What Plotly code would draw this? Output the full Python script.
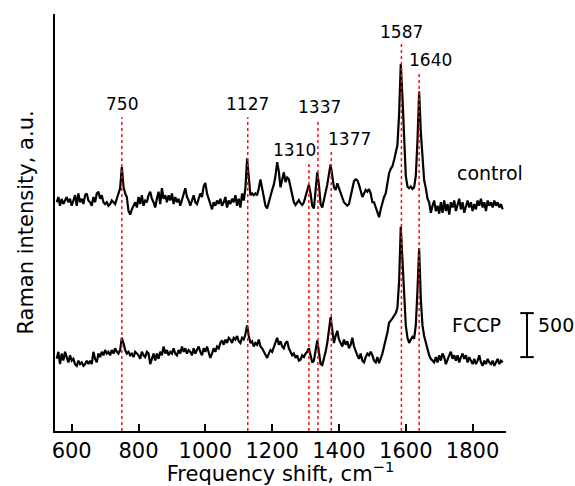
import plotly.graph_objects as go

# --- Data: Raman spectra sampled every 5 cm-1 from 555 to 1890 ---
WAVENUMBER = list(range(555, 1891, 5))

CONTROL = [
    2600, 2660, 2560, 2640, 2580, 2620, 2660, 2600, 2640, 2560,   # 555-600
    2620, 2680, 2560, 2700, 2600, 2640, 2580, 2680, 2700, 2620,   # 605-650
    2600, 2560, 2660, 2600, 2700, 2720, 2640, 2680, 2600, 2580,   # 655-700
    2600, 2560, 2580, 2620, 2600, 2580, 2640, 2700, 2760, 3000,   # 705-750
    2780, 2700, 2660, 2500, 2460, 2520, 2560, 2600, 2540, 2660,   # 755-800
    2580, 2680, 2560, 2620, 2600, 2680, 2720, 2640, 2600, 2540,   # 805-850
    2640, 2720, 2580, 2760, 2640, 2680, 2600, 2680, 2620, 2700,   # 855-900
    2580, 2660, 2600, 2640, 2560, 2620, 2700, 2760, 2660, 2620,   # 905-950
    2560, 2620, 2680, 2600, 2580, 2640, 2700, 2660, 2780, 2820,   # 955-1000
    2700, 2640, 2580, 2520, 2600, 2560, 2620, 2580, 2640, 2560,   # 1005-1050
    2600, 2660, 2540, 2620, 2580, 2640, 2600, 2680, 2560, 2640,   # 1055-1100
    2540, 2700, 2620, 2760, 3100, 2880, 2680, 2700, 2680, 2700,   # 1105-1150
    2680, 2760, 2860, 2760, 2640, 2560, 2530, 2600, 2700, 2740,   # 1155-1200
    2800, 2900, 3055, 2950, 2770, 2850, 2940, 2830, 2880, 2860,   # 1205-1250
    2760, 2660, 2600, 2570, 2600, 2625, 2590, 2570, 2600, 2660,   # 1255-1300
    2740, 2800, 2700, 2560, 2530, 2700, 2940, 2800, 2580, 2540,   # 1305-1350
    2620, 2700, 2800, 2920, 3030, 2900, 2770, 2740, 2815, 2760,   # 1355-1400
    2700, 2640, 2600, 2580, 2560, 2580, 2660, 2760, 2840, 2860,   # 1405-1450
    2850, 2800, 2720, 2660, 2700, 2740, 2720, 2750, 2700, 2600,   # 1455-1500
    2600, 2540, 2470, 2430, 2520, 2610, 2660, 2700, 2800, 2930,   # 1505-1550
    2980, 3010, 3080, 3180, 3250, 3600, 4170, 3800, 3250, 2900,   # 1555-1600
    2780, 2760, 2780, 2750, 2770, 2900, 3300, 3860, 3400, 3050,   # 1605-1650
    2850, 2760, 2640, 2600, 2480, 2560, 2620, 2500, 2560, 2470,   # 1655-1700
    2600, 2480, 2620, 2500, 2580, 2460, 2600, 2540, 2620, 2500,   # 1705-1750
    2580, 2640, 2520, 2600, 2480, 2560, 2620, 2540, 2600, 2500,   # 1755-1800
    2580, 2520, 2620, 2560, 2640, 2540, 2600, 2500, 2620, 2560,   # 1805-1850
    2600, 2540, 2620, 2560, 2600, 2540, 2580, 2520,               # 1855-1890
]

FCCP = [
    820, 900, 760, 880, 800, 900, 840, 780, 860, 800,             # 555-600
    820, 760, 740, 800, 760, 780, 740, 760, 800, 760,             # 605-650
    800, 760, 900, 820, 780, 880, 840, 900, 860, 920,             # 655-700
    880, 900, 860, 920, 880, 940, 900, 880, 920, 1060,            # 705-750
    1000, 920, 880, 900, 860, 880, 840, 900, 880, 860,            # 755-800
    820, 900, 860, 840, 900, 880, 760, 820, 880, 800,             # 805-850
    880, 820, 900, 860, 960, 880, 920, 860, 900, 880,             # 855-900
    940, 880, 860, 920, 880, 960, 900, 940, 880, 920,             # 905-950
    900, 860, 940, 880, 920, 960, 900, 860, 940, 900,             # 955-1000
    960, 900, 830, 880, 940, 900, 960, 940, 1000, 1030,           # 1005-1050
    980, 1040, 1000, 1060, 1040, 1000, 1060, 1040, 1080, 1020,    # 1055-1100
    1000, 1060, 1040, 1100, 1200, 1080, 1000, 1020, 960, 1000,    # 1105-1150
    980, 1040, 960, 940, 900, 860, 830, 880, 920, 900,            # 1155-1200
    960, 1020, 1060, 980, 1020, 960, 940, 1000, 1020, 940,        # 1205-1250
    900, 860, 880, 830, 860, 800, 810, 860, 840, 880,             # 1255-1300
    900, 940, 860, 780, 800, 900, 1030, 900, 760, 750,            # 1305-1350
    820, 900, 1000, 1150, 1295, 1150, 1000, 1080, 1140, 1040,     # 1355-1400
    1000, 960, 1040, 980, 1020, 940, 980, 1060, 960, 900,         # 1405-1450
    860, 820, 880, 800, 780, 840, 880, 860, 900, 860,             # 1455-1500
    800, 780, 840, 770, 820, 880, 960, 1030, 1120, 1230,          # 1505-1550
    1250, 1280, 1310, 1340, 1400, 1700, 2320, 1950, 1450, 1200,   # 1555-1600
    1060, 1000, 1040, 1070, 1050, 1200, 1600, 2080, 1500, 1200,   # 1605-1650
    1080, 1000, 920, 860, 820, 800, 780, 840, 780, 860,           # 1655-1700
    800, 880, 840, 760, 820, 860, 900, 820, 860, 800,             # 1705-1750
    860, 780, 840, 880, 820, 860, 780, 840, 800, 760,             # 1755-1800
    820, 760, 800, 860, 780, 740, 800, 760, 820, 780,             # 1805-1850
    760, 800, 740, 780, 820, 760, 800, 780,                       # 1855-1890
]

# Marked peaks: position, top of dotted line, label centre (x, y)
PEAKS = [750, 1127, 1310, 1337, 1377, 1587, 1640]
PEAK_LINE_TOP = [3567, 3567, 3045, 3544, 3192, 4408, 4067]
PEAK_LABEL_X = [750, 1127, 1266, 1341, 1431, 1586, 1674]
PEAK_LABEL_Y = [3715, 3715, 3192, 3681, 3317, 4533, 4215]

SERIES_NAMES = ["control", "FCCP"]
SERIES_LABEL_X = [1746, 1731]
SERIES_LABEL_Y = [2931, 1204]

SCALE_BAR = [840, 1340]  # 500 a.u.

FONT = "DejaVu Sans"

fig = go.Figure()

for vals in [CONTROL, FCCP]:
    fig.add_trace(go.Scatter(
        x=WAVENUMBER, y=vals, mode="lines",
        line=dict(color="black", width=2.2), showlegend=False, hoverinfo="skip"
    ))

# Dotted red markers for peaks
for pos, top in zip(PEAKS, PEAK_LINE_TOP):
    fig.add_trace(go.Scatter(
        x=[pos, pos], y=[0, top], mode="lines",
        line=dict(color="#e8141c", width=1.5, dash="dot"),
        showlegend=False, hoverinfo="skip"
    ))

for pos, lx, ly in zip(PEAKS, PEAK_LABEL_X, PEAK_LABEL_Y):
    fig.add_annotation(x=lx, y=ly, text=str(pos), showarrow=False,
                       xanchor="center", yanchor="middle",
                       font=dict(size=17, color="black", family=FONT))

for name, lx, ly in zip(SERIES_NAMES, SERIES_LABEL_X, SERIES_LABEL_Y):
    fig.add_annotation(x=lx, y=ly, text=name, showarrow=False,
                       xanchor="left", yanchor="middle",
                       font=dict(size=19, color="black", family=FONT))

# Scale bar outside the plot on the right
bar_x = 1.0466
cap = 0.015
fig.add_shape(type="line", xref="paper", yref="y", x0=bar_x, x1=bar_x,
              y0=SCALE_BAR[0], y1=SCALE_BAR[1], line=dict(color="black", width=2))
for yv in SCALE_BAR:
    fig.add_shape(type="line", xref="paper", yref="y", x0=bar_x - cap, x1=bar_x + cap,
                  y0=yv, y1=yv, line=dict(color="black", width=2))
fig.add_annotation(xref="paper", yref="y", x=bar_x + 0.02, y=SCALE_BAR[1] - 130,
                   text=str(SCALE_BAR[1] - SCALE_BAR[0]), showarrow=False,
                   xanchor="left", yanchor="middle",
                   font=dict(size=19, color="black", family=FONT))

fig.update_layout(
    width=575, height=486,
    margin=dict(l=55, r=69, t=14, b=55),
    plot_bgcolor="white", paper_bgcolor="white",
    font=dict(family=FONT, color="black"),
    showlegend=False,
)

fig.update_xaxes(
    range=[550, 1900], tickvals=[600, 800, 1000, 1200, 1400, 1600, 1800],
    ticks="inside", ticklen=7, tickwidth=1.5, tickcolor="black",
    showline=True, linecolor="black", linewidth=2, mirror=False,
    showgrid=False, zeroline=False, automargin=False,
    tickfont=dict(size=21, family=FONT, color="black"),
    title=dict(text="Frequency shift, cm<sup>−1</sup>", standoff=5,
               font=dict(size=21, family=FONT, color="black")),
)
fig.update_yaxes(
    range=[0, 4740], showticklabels=False, ticks="",
    showline=True, linecolor="black", linewidth=2, mirror=False,
    showgrid=False, zeroline=False, automargin=False,
    title=dict(text="Raman intensity, a.u.", standoff=14,
               font=dict(size=21, family=FONT, color="black")),
)

# drop the default page margin so the 575x486 figure fills the window
fig.write_html("out.html", config={"displayModeBar": False},
               post_script="document.body.style.margin='0';")
